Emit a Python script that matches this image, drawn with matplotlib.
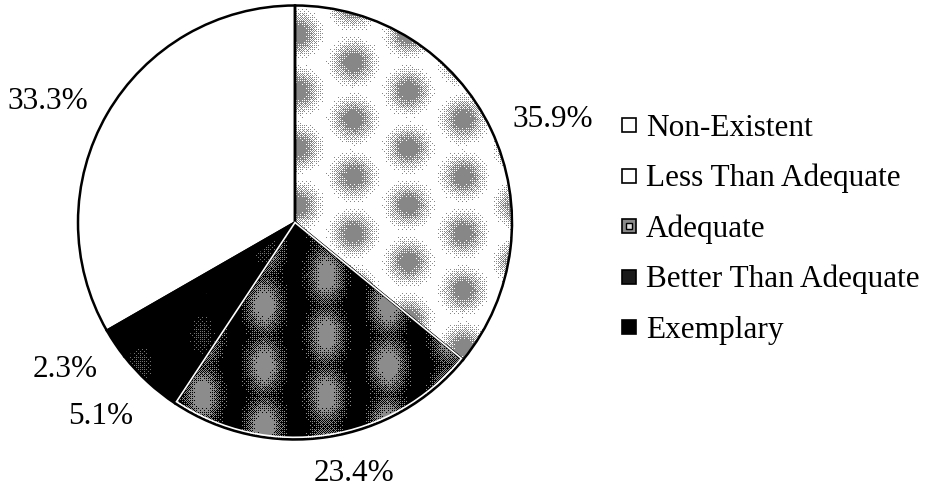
import numpy as np
import matplotlib.pyplot as plt
from matplotlib.patches import Wedge, Rectangle

plt.rcParams['font.family'] = ['Liberation Serif', 'DejaVu Serif']

categories = ['Non-Existent', 'Less Than Adequate', 'Adequate',
              'Better Than Adequate', 'Exemplary']
shares = [33.3, 35.9, 23.4, 5.1, 2.3]
# slices run clockwise from 12 o'clock in this order
pie_order = [1, 2, 3, 4, 0]
# hand placement tweaks for the value labels, pixels (right, down), in pie_order
label_nudge = [(5, 14), (21, -5), (-12, -7), (-4, -8), (-6, 16)]

W, H, DPI = 926, 487, 100
CX, CY, R = 295, 222.5, 217      # pie centre / radius in pixels (y from top)
FS = 22.5
FS_PX = FS * DPI / 72
DIGIT_H = 0.676 * FS_PX

# fill textures: background, blob colour, lattice spacing, blob radii, strength
textures = {
    'Non-Existent':         dict(bg=(1, 1, 1), fg=None),
    'Less Than Adequate':   dict(bg=(1, 1, 1), fg=(0.53, 0.53, 0.53), sp=(55, 57), rad=(19, 19), k=1.0),
    'Adequate':             dict(bg=(0, 0, 0), fg=(0.55, 0.55, 0.55), sp=(62, 60), rad=(18, 30), k=1.0),
    'Better Than Adequate': dict(bg=(0, 0, 0), fg=(0.45, 0.45, 0.45), sp=(62, 60), rad=(14, 24), k=0.3),
    'Exemplary':            dict(bg=(0, 0, 0), fg=None),
}


def bayer(n):
    m = np.array([[0, 2], [3, 1]])
    while m.shape[0] < n:
        m = np.block([[4 * m, 4 * m + 2], [4 * m + 3, 4 * m + 1]])
    return (m + 0.5) / m.size


def texture(spec, size):
    img = np.ones((size, size, 3)) * np.array(spec['bg'])
    if spec['fg'] is None:
        return img
    sx, sy = spec['sp']
    rx, ry = spec['rad']
    yy, xx = np.mgrid[0:size, 0:size].astype(float)
    field = np.zeros((size, size))
    for j, x0 in enumerate(np.arange(-sx, size + sx, sx)):
        off = (j % 2) * sy / 2
        for y0 in np.arange(-sy, size + sy, sy) + off:
            g = np.exp(-(((xx - x0) / rx) ** 2 + ((yy - y0) / ry) ** 2))
            field = np.maximum(field, g)
    field *= spec['k']
    thr = np.tile(bayer(8), (size // 8 + 1, size // 8 + 1))[:size, :size]
    mask = field > (0.12 + 0.75 * thr)
    img[mask] = spec['fg']
    return img


fig = plt.figure(figsize=(W / DPI, H / DPI), dpi=DPI)
ax = fig.add_axes([(CX - R) / W, (H - CY - R) / H, 2 * R / W, 2 * R / H])

vals = [shares[i] for i in pie_order]
wedges, _ = ax.pie(vals, startangle=90, counterclock=False, radius=1,
                   colors=['none'] * len(vals),
                   wedgeprops=dict(edgecolor='black', linewidth=1.8))
for w in wedges:
    w.set_zorder(3)

size = 2 * R
for w, idx in zip(wedges, pie_order):
    im = ax.imshow(texture(textures[categories[idx]], size),
                   extent=(-1, 1, -1, 1), interpolation='nearest', zorder=1)
    im.set_clip_path(w)
    if categories[idx] == 'Adequate':
        ax.add_patch(Wedge((0, 0), 0.99, w.theta1, w.theta2, fill=False,
                           edgecolor='white', linewidth=1.2, zorder=4))

ax.set_xlim(-1, 1)
ax.set_ylim(-1, 1)
ax.set_aspect('equal')
ax.axis('off')

# percentage labels just outside each slice
renderer = fig.canvas.get_renderer()
gap = 22
for w, idx, (nx, ny) in zip(wedges, pie_order, label_nudge):
    mid = np.deg2rad((w.theta1 + w.theta2) / 2)
    ux, uy = np.cos(mid), np.sin(mid)
    t = ax.text(0, 0, f'{shares[idx]:.1f}%', fontsize=FS, ha='center', va='baseline')
    bb = t.get_window_extent(renderer)
    s = abs(ux) * bb.width / 2 + abs(uy) * DIGIT_H / 2
    d = R + gap + s
    px = CX + d * ux + nx
    py = CY - d * uy + ny + DIGIT_H / 2       # baseline, pixels from top
    t.set_position(((px - CX) / R, (CY - py) / R))
    t.set_clip_on(False)

# legend
lx, ly0, step, box = 622, 125, 50.5, 14
legend_faces = {
    'Non-Existent': 'white', 'Less Than Adequate': 'white',
    'Adequate': '#8a8a8a', 'Better Than Adequate': '#1a1a1a', 'Exemplary': 'black',
}
for k, name in enumerate(categories):
    yc = ly0 + k * step
    fig.patches.append(Rectangle((lx / W, (H - yc - box / 2) / H), box / W, box / H,
                                 transform=fig.transFigure, facecolor=legend_faces[name],
                                 edgecolor='black', linewidth=1.2))
    if name == 'Adequate':
        fig.patches.append(Rectangle(((lx + 4) / W, (H - yc - 3) / H), 6 / W, 6 / H,
                                     transform=fig.transFigure, facecolor='#dddddd',
                                     edgecolor='black', linewidth=1.0))
    fig.text((lx + 24) / W, (H - yc - DIGIT_H / 2) / H, name, fontsize=FS,
             ha='left', va='baseline')

fig.savefig('out.png', dpi=DPI)
